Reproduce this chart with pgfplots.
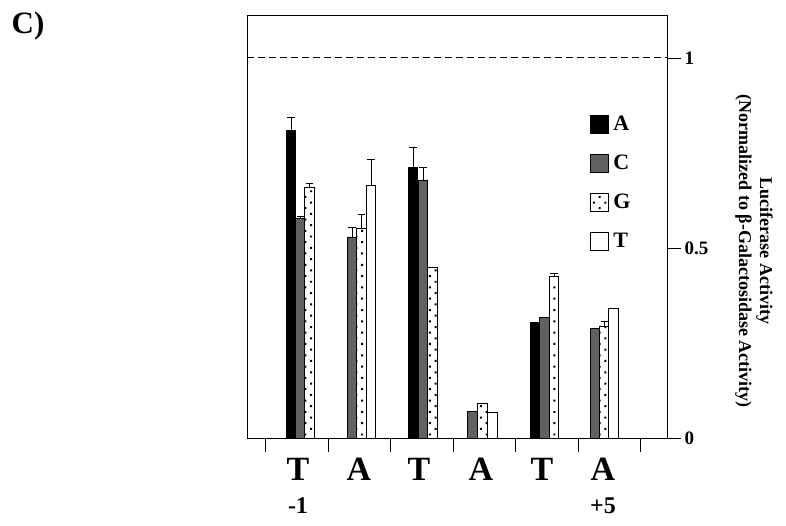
\documentclass[border=0pt]{standalone}
\usepackage{fontspec}
\setmainfont{Liberation Serif}
\usepackage{pgfplots}
\pgfplotsset{compat=1.18}
\usepackage{pgfplotstable}
\usetikzlibrary{patterns.meta}

\pgfplotstableread{
x y e
-0.096 0.810 0.035
1.856 0.713 0.053
3.808 0.305 0
}\seriesA
\pgfplotstableread{
x y e
0.056 0.579 0.005
0.880 0.529 0.024
2.016 0.679 0.034
2.808 0.071 0
3.960 0.318 0
4.776 0.289 0
}\seriesC
\pgfplotstableread{
x y e
0.200 0.660 0.011
1.032 0.553 0.036
2.168 0.450 0
2.968 0.092 0
4.112 0.426 0.008
4.920 0.295 0.013
}\seriesG
\pgfplotstableread{
x y e
1.184 0.666 0.066
3.128 0.068 0
5.064 0.342 0
}\seriesT

\begin{document}
\begin{tikzpicture}
\begin{axis}[
  scale only axis,
  width=420pt, height=423pt,
  xmin=-0.8, xmax=5.92,
  ymin=0, ymax=1.113,
  clip=false,
  axis line style={black, line width=0.8pt},
  tick align=outside,
  major tick length=14pt,
  tick style={black, line width=0.8pt},
  xtick={-0.5,0.5,1.5,2.5,3.5,4.5,5.5},
  xticklabels={},
  xtick pos=left,
  extra x ticks={0.016,0.992,1.952,2.944,3.92,4.896},
  extra x tick labels={T,A,T,A,T,A},
  extra x tick style={major tick length=0pt,
     tick label style={font=\fontsize{34}{34}\selectfont\bfseries, yshift=-17pt}},
  ytick={0,0.5,1},
  yticklabels={0,0.5,1},
  ytick pos=right,
  yticklabel pos=right,
  /pgf/number format/assume math mode=true,
  yticklabel style={font=\fontsize{19}{19}\selectfont\bfseries},
  ylabel={Luciferase Activity\\(Normalized to β-Galactosidase Activity)},
  every axis y label/.style={at={(rel axis cs:1.207,0.442)}, anchor=center,
     rotate=-90, align=center, font=\fontsize{18}{21}\selectfont\bfseries},
  ybar, bar width=0.152, bar shift=0pt,
  error bars/y dir=plus, error bars/y explicit,
  error bars/error bar style={black, line width=0.7pt},
  error bars/error mark options={rotate=90, mark size=3.8pt, black, line width=0.7pt},
  legend style={draw=none, fill=none, at={(0.8167,0.765)}, anchor=north west,
     inner sep=0pt, row sep=20.5pt, font=\fontsize{22}{22}\selectfont\bfseries,
     nodes={inner xsep=4.5pt, inner ysep=0pt},
     legend cell align=left},
  legend image code/.code={\draw[#1, bar shift=0pt] (0pt,-9pt) rectangle (18pt,9pt);},
]
\addplot[draw=black, line width=0.6pt, fill=black] table[x=x, y=y, y error=e] {\seriesA};
\addlegendentry{A}
\addplot[draw=black, line width=0.6pt, fill=black!62] table[x=x, y=y, y error=e] {\seriesC};
\addlegendentry{C}
\addplot[draw=black, line width=0.6pt, fill=white, postaction={pattern={Dots[radius=1.4pt, distance=8pt, angle=45]}, pattern color=black}] table[x=x, y=y, y error=e] {\seriesG};
\addlegendentry{G}
\addplot[draw=black, line width=0.6pt, fill=white] table[x=x, y=y, y error=e] {\seriesT};
\addlegendentry{T}
\addplot[sharp plot, black, dash pattern=on 7pt off 4pt, line width=0.9pt, forget plot, no markers, error bars/y dir=none] coordinates {(-0.8,1) (5.92,1)};
\node[font=\fontsize{24}{24}\selectfont\bfseries] at (axis cs:0.016,0) [yshift=-68pt] {-1};
\node[font=\fontsize{24}{24}\selectfont\bfseries] at (axis cs:4.896,0) [yshift=-68pt] {+5};
\end{axis}
\node[font=\fontsize{31}{31}\selectfont\bfseries] at (-219pt,412pt) {C)};
\pgfresetboundingbox
\path[use as bounding box] (-247pt,-87pt) rectangle (539pt,438pt);
\end{tikzpicture}
\end{document}
